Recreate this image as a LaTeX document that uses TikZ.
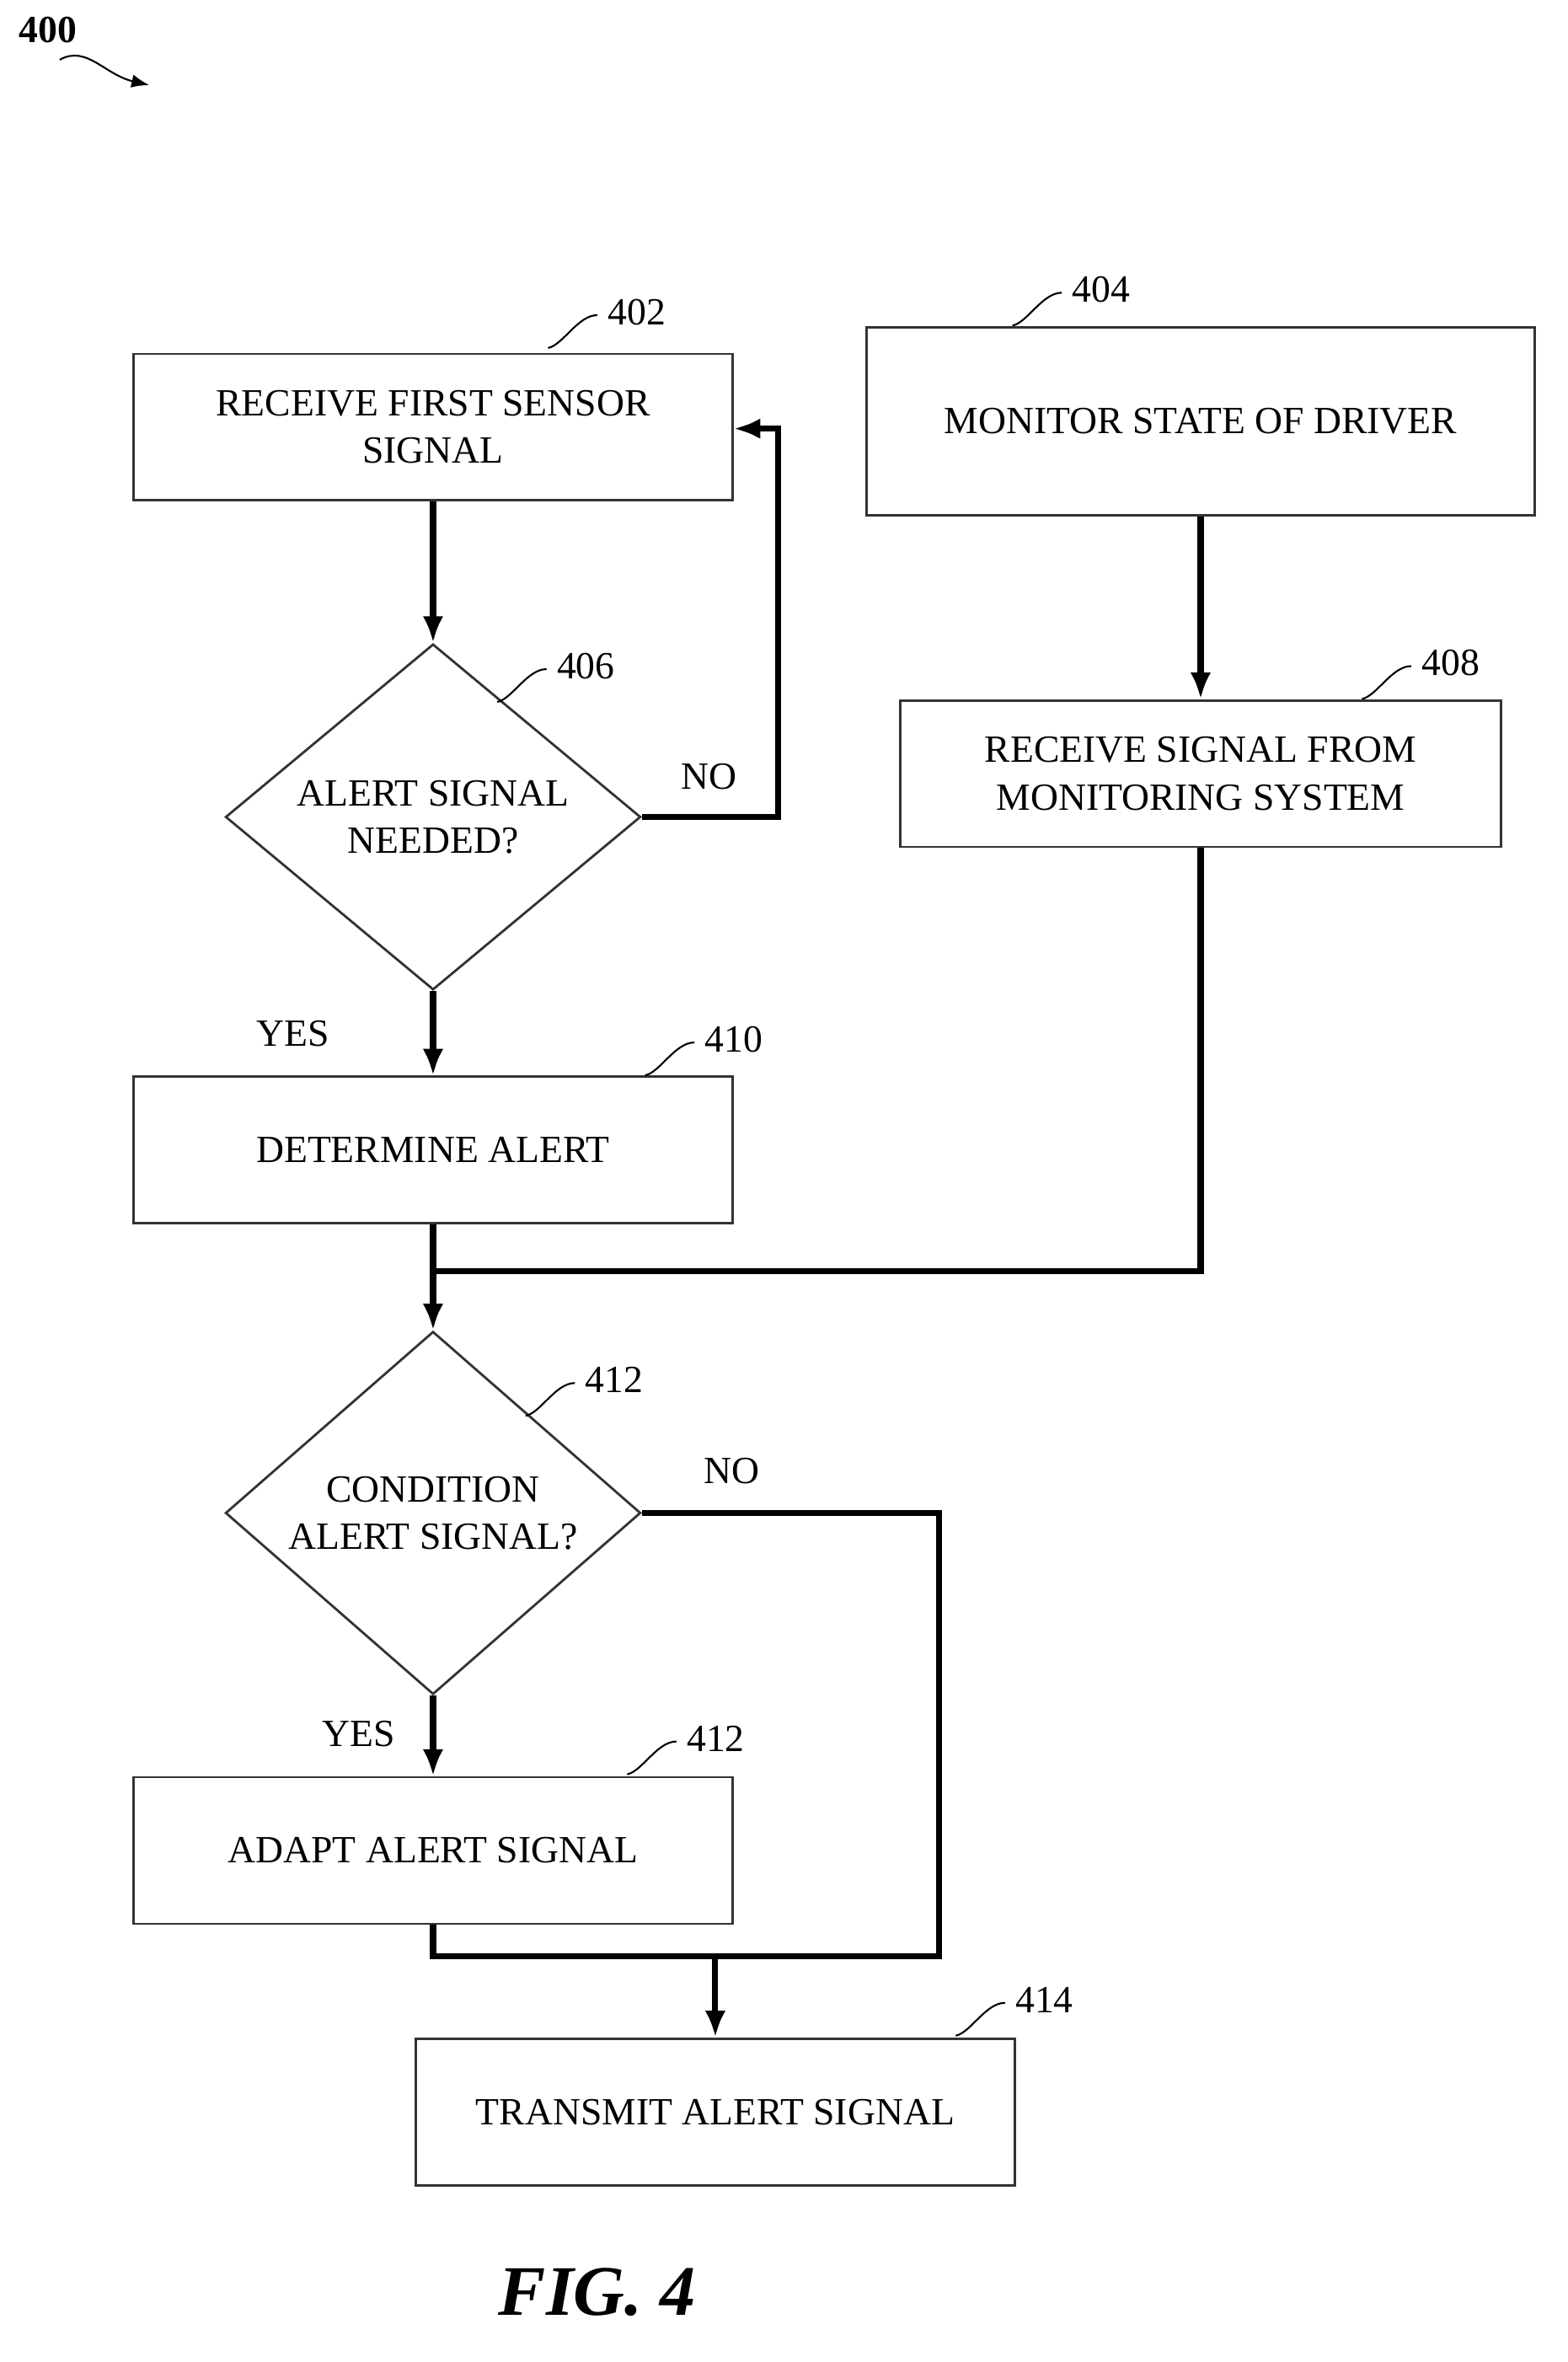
\documentclass[tikz,border=0pt]{standalone}
\usepackage{fontspec}
\setmainfont{Liberation Serif}
\usetikzlibrary{shapes.geometric, arrows.meta}
\tikzset{
    x=0.017724cm, y=-0.017724cm, % one unit is one pixel of the drawing
    box/.style={draw=black!80, line width=0.8pt, minimum width=7.11cm, minimum height=1.74cm, align=center, font=\fontsize{13}{16}\selectfont},
    decision/.style={draw=black!80, line width=0.8pt, diamond, inner sep=0pt, minimum width=4.93cm, minimum height=3.99cm, align=center, font=\fontsize{13}{16}\selectfont},
    flow/.style={line width=2pt, -{Latex[length=9pt,width=7pt]}},
    line/.style={line width=2pt},
    lbl/.style={font=\fontsize{13}{16}\selectfont},
}
\newcommand{\refmark}[3]{%
    \draw[line width=0.6pt] (#1,#2) .. controls (#1+10,#2-2) and (#1+20,#2-22) .. (#1+33,#2-22);
    \node[lbl, anchor=west] at (#1+33,#2-24) {#3};
}
\begin{document}
\begin{tikzpicture}
    \useasboundingbox (0,0) rectangle (1050,1581.5);
    % nodes
    \node[box] (s402) at (290,286) {RECEIVE FIRST SENSOR\\SIGNAL};
    \node[box, minimum width=7.94cm, minimum height=2.23cm] (s404) at (804,282) {MONITOR STATE OF DRIVER};
    \node[decision] (s406) at (290,547) {ALERT SIGNAL\\NEEDED?};
    \node[box, minimum width=7.14cm] (s408) at (804,518) {RECEIVE SIGNAL FROM\\MONITORING SYSTEM};
    \node[box] (s410) at (290,770) {DETERMINE ALERT};
    \node[decision] (s412) at (290,1013) {CONDITION\\ALERT SIGNAL?};
    \node[box] (s412b) at (290,1239) {ADAPT ALERT SIGNAL};
    \node[box] (s414) at (479,1414) {TRANSMIT ALERT SIGNAL};
    \coordinate (merge) at (290,851);
    \coordinate (join) at (479,1310);
    % connectors
    \draw[flow] (s402) -- (s406);
    \draw[flow] (s406.east) -| (521,287) -- (s402.east |- 0,287);
    \draw[flow] (s406) -- (s410);
    \draw[flow] (s404) -- (s408);
    \draw[line] (s408.south) |- (merge);
    \draw[flow] (s410.south) -- (s412.north);
    \draw[flow] (s412) -- (s412b);
    \draw[line] (s412.east) -| (629,1310) -- (join);
    \draw[line] (s412b.south) |- (join);
    \draw[flow] (join) -- (s414);
    % labels
    \node[lbl] at (475,520) {NO};
    \node[lbl] at (196,692) {YES};
    \node[lbl] at (490,985) {NO};
    \node[lbl] at (240,1161) {YES};
    \refmark{367}{233}{402}
    \refmark{678}{218}{404}
    \refmark{333}{470}{406}
    \refmark{912}{468}{408}
    \refmark{432}{720}{410}
    \refmark{352}{948}{412}
    \refmark{420}{1188}{412}
    \refmark{640}{1363}{414}
    \node[font=\bfseries\fontsize{13}{16}\selectfont] (n400) at (32,20) {400};
    \draw[line width=0.6pt, -{Latex[length=6pt]}] (40,40) .. controls (58,30) and (70,50) .. (100,57);
    \node[font=\bfseries\itshape\fontsize{24}{28}\selectfont] (fig) at (400,1535) {FIG. 4};
\end{tikzpicture}
\end{document}
